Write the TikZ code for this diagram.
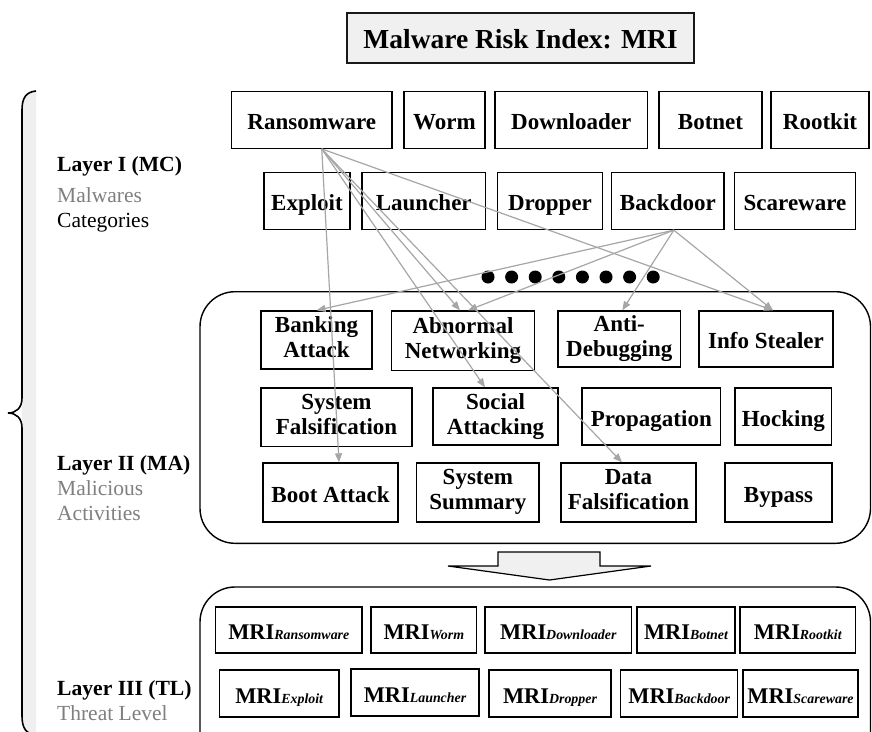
\documentclass[tikz,border=0pt]{standalone}
\usepackage{fontspec}
\setmainfont{Liberation Serif}
\usetikzlibrary{arrows.meta}
\definecolor{arrowgray}{HTML}{A6A6A6}
\definecolor{stripgray}{HTML}{EFEFEF}
\definecolor{titlefill}{HTML}{F0F0F0}
\definecolor{labelgray}{HTML}{7F7F7F}
\newcommand{\topstrut}{\rule{0pt}{24.5pt}}
\newcommand{\botstrut}{\rule[-5.5pt]{0pt}{5.5pt}}
\tikzset{
  box/.style={draw=black, line width=1.3pt, fill=white, inner sep=0pt, align=center,
    font=\bfseries\fontsize{23}{25}\selectfont,
    execute at begin node=\topstrut, execute at end node=\botstrut},
  mribox/.style={draw=black, line width=1.3pt, fill=white, inner sep=0pt,
    font=\bfseries\fontsize{22.4}{24}\selectfont,
    execute at begin node=\topstrut, execute at end node=\botstrut},
  layerbox/.style={draw=black, line width=1.4pt, fill=white, rounded corners=35pt},
  conn/.style={draw=arrowgray, line width=1.2pt, -{Triangle[length=9pt,width=7pt]}},
  labbold/.style={anchor=base west, inner sep=0pt, font=\bfseries\fontsize{21.6}{23}\selectfont},
  labreg/.style={anchor=base west, inner sep=0pt, font=\fontsize{21.5}{23}\selectfont},
  dot/.style={circle, fill=black, inner sep=0pt, minimum size=13pt},
}
\newcommand{\sub}[1]{{\fontsize{13.9}{14}\selectfont\itshape #1}}
\begin{document}
\begin{tikzpicture}[x=1pt,y=-1pt]
\useasboundingbox (0,0) rectangle (872,731);
\clip (0,0) rectangle (872,731);

% brace and strip
\fill[stripgray] (36,91) .. controls (26,92) and (22,98) .. (22,110) -- (22,716) .. controls (22,728) and (26,734) .. (36,735) -- cycle;
\draw[line width=1.6pt] (36,91) .. controls (26,92) and (22,98) .. (22,110) -- (22,398)
  .. controls (22,408) and (16,413) .. (8,413) .. controls (16,413) and (22,418) .. (22,428)
  -- (22,716) .. controls (22,728) and (26,734) .. (36,735);

% title
\node[draw=black!90, line width=2pt, fill=titlefill, inner sep=0pt, minimum width=347pt, minimum height=50pt,
  font=\bfseries\fontsize{27.5}{30}\selectfont] (title) at (520.5,38) {\rule{0pt}{27pt}Malware Risk Index: MRI\rule[-6pt]{0pt}{6pt}};

% layer labels
\node[labbold] (l1) at (57,171) {Layer I (MC)};
\node[labreg, text=labelgray] (l1a) at (57,202) {Malwares};
\node[labreg] (l1b) at (57,227) {Categories};
\node[labbold] (l2) at (57,470) {Layer II (MA)};
\node[labreg, text=labelgray] (l2a) at (57,495) {Malicious};
\node[labreg, text=labelgray] (l2b) at (57,520) {Activities};
\node[labbold] (l3) at (57,695) {Layer III (TL)};
\node[labreg, text=labelgray] (l3a) at (57,720) {Threat Level};

% layer I: categories
\node[box, minimum width=160.5pt, minimum height=56.5pt] (ransom) at (311.75,120) {Ransomware};
\node[box, minimum width=81pt, minimum height=56.5pt] (worm) at (444.5,120) {Worm};
\node[box, minimum width=152.5pt, minimum height=56.5pt] (downl) at (571.25,120) {Downloader};
\node[box, minimum width=103pt, minimum height=56.5pt] (botnet) at (710.5,120) {Botnet};
\node[box, minimum width=98pt, minimum height=56.5pt] (rootkit) at (820,120) {Rootkit};

\node[box, minimum width=86pt, minimum height=57pt] (exploit) at (307,201) {Exploit};
\node[box, minimum width=123.5pt, minimum height=57pt] (launcher) at (423.75,201) {Launcher};
\node[box, minimum width=105pt, minimum height=57pt] (dropper) at (550,201) {Dropper};
\node[box, minimum width=112.3pt, minimum height=57pt] (backdoor) at (667.85,201) {Backdoor};
\node[box, minimum width=121.2pt, minimum height=57pt] (scareware) at (795,201) {Scareware};

% dots
\foreach \i in {0,...,7} {
  \node[dot] (dot\i) at ({488+23.6*\i},277) {};
}

% layer II container
\draw[layerbox] (200,291.7) rectangle (870.5,543.3);

\node[box, minimum width=111pt, minimum height=58pt] (banking) at (316.5,340) {Banking\\Attack};
\node[box, minimum width=142.7pt, minimum height=59.7pt] (abnormal) at (463,340.85) {Abnormal\\Networking};
\node[box, minimum width=122.5pt, minimum height=56pt] (antidebug) at (619.25,339) {Anti-\\Debugging};
\node[box, minimum width=134pt, minimum height=56pt] (infostealer) at (766,339) {Info Stealer};

\node[box, minimum width=151pt, minimum height=58.7pt] (sysfals) at (336.5,417.3) {System\\Falsification};
\node[box, minimum width=125pt, minimum height=57pt] (social) at (495.5,416.5) {Social\\Attacking};
\node[box, minimum width=138.6pt, minimum height=57pt] (propagation) at (651.3,416.5) {Propagation};
\node[box, minimum width=96.7pt, minimum height=57pt] (hocking) at (783.35,416.5) {Hocking};

\node[box, minimum width=135pt, minimum height=59pt] (boot) at (330.5,492.5) {Boot Attack};
\node[box, minimum width=122.3pt, minimum height=59pt] (syssum) at (477.85,492.5) {System\\Summary};
\node[box, minimum width=135pt, minimum height=59pt] (datafals) at (628.5,492.5) {Data\\Falsification};
\node[box, minimum width=107pt, minimum height=59pt] (bypass) at (778.5,492.5) {Bypass};

% big arrow
\draw[line width=1.2pt, fill=titlefill] (498,552) -- (600,552) -- (600,566) -- (651,566) -- (549.5,580)
  -- (448,566) -- (498,566) -- cycle;

% layer III container
\draw[layerbox] (200,587) rectangle (870.5,780);

\node[mribox, minimum width=146.4pt, minimum height=46pt] (mri1) at (288.8,630) {MRI\sub{Ransomware}};
\node[mribox, minimum width=105.7pt, minimum height=46pt] (mri2) at (423.85,630) {MRI\sub{Worm}};
\node[mribox, minimum width=146.7pt, minimum height=46pt] (mri3) at (558.35,630) {MRI\sub{Downloader}};
\node[mribox, minimum width=98pt, minimum height=46pt] (mri4) at (686,630) {MRI\sub{Botnet}};
\node[mribox, minimum width=115.6pt, minimum height=46pt] (mri5) at (797.8,630) {MRI\sub{Rootkit}};

\node[mribox, minimum width=119.6pt, minimum height=47pt] (mri6) at (279.2,693.5) {MRI\sub{Exploit}};
\node[mribox, minimum width=128pt, minimum height=47pt] (mri7) at (415,692.5) {MRI\sub{Launcher}};
\node[mribox, minimum width=122pt, minimum height=47pt] (mri8) at (550,693.5) {MRI\sub{Dropper}};
\node[mribox, minimum width=117.2pt, minimum height=47pt] (mri9) at (679.2,693.5) {MRI\sub{Backdoor}};
\node[mribox, minimum width=115pt, minimum height=47pt] (mri10) at (800.5,693.5) {MRI\sub{Scareware}};

% connectors
\coordinate (rs) at ([xshift=10pt]ransom.south);
\coordinate (bd) at ([xshift=6pt]backdoor.south);
\draw[conn] (rs) -- ([xshift=8.5pt]boot.north);
\draw[conn] (rs) -- ([xshift=-3pt]abnormal.north);
\draw[conn] (rs) -- ([xshift=-10.5pt]social.north);
\draw[conn] (rs) -- ([xshift=-6.5pt]datafals.north);
\draw[conn] (rs) -- ([xshift=7pt]infostealer.north);
\draw[conn] (bd) -- (banking.north);
\draw[conn] (bd) -- ([xshift=5pt]abnormal.north);
\draw[conn] (bd) -- ([xshift=3pt]antidebug.north);
\draw[conn] (bd) -- ([xshift=7pt]infostealer.north);
\end{tikzpicture}
\end{document}
